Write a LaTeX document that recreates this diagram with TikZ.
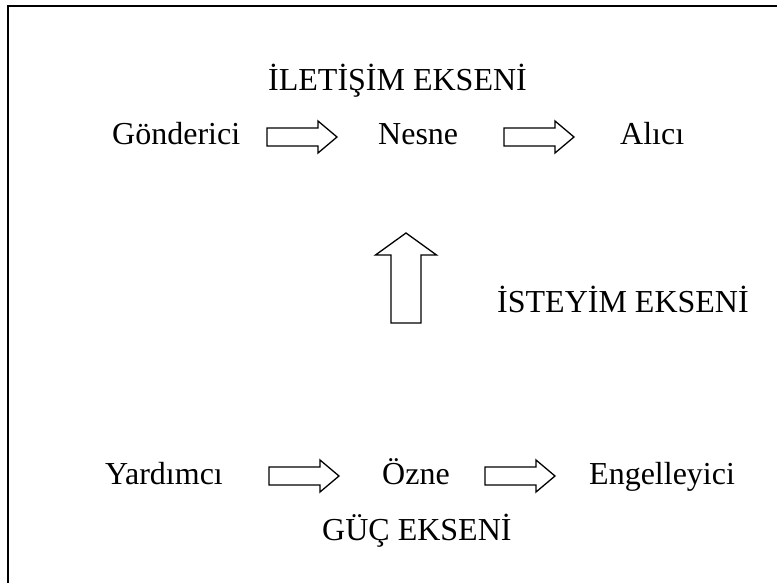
\documentclass[tikz,border=0pt]{standalone}
\usepackage{fontspec}
\setmainfont{Liberation Serif}
\begin{document}
\begin{tikzpicture}[x=1pt,y=-1pt,
  lbl/.style={inner sep=0pt,anchor=base west,font=\fontsize{32}{38}\selectfont},
  blk/.style={draw=black,line width=1.3pt,line join=miter},
  harrow/.pic={\draw[blk] (0,-9) -- (51,-9) -- (51,-16) -- (70,0) -- (51,16) -- (51,9) -- (0,9) -- cycle;},
  varrow/.pic={\draw[blk] (-15,90) -- (-15,22) -- (-30.5,22) -- (0,0) -- (30.5,22) -- (15,22) -- (15,90) -- cycle;}]
\useasboundingbox (0,0) rectangle (777,583);
\draw[line width=2pt] (8,583) -- (8,6) -- (777,6);
% axis titles
\node[lbl] (ilet) at (268,91) {İLETİŞİM EKSENİ};
\node[lbl] (iste) at (497,312) {İSTEYİM EKSENİ};
\node[lbl] (guc) at (322,540) {GÜÇ EKSENİ};
% row 1
\node[lbl] (gon) at (112,145) {Gönderici};
\node[lbl] (nes) at (378,145) {Nesne};
\node[lbl] (ali) at (620,145) {Alıcı};
\coordinate (a1) at (267,137);
\coordinate (a2) at (504,137);
\pic at (a1) {harrow};
\pic at (a2) {harrow};
% up arrow
\coordinate (up) at (406,233);
\pic at (up) {varrow};
% row 2
\node[lbl] (yar) at (105,484) {Yardımcı};
\node[lbl] (ozn) at (382,484) {Özne};
\node[lbl] (eng) at (589,484) {Engelleyici};
\coordinate (b1) at (269,476);
\coordinate (b2) at (485,476);
\pic at (b1) {harrow};
\pic at (b2) {harrow};
\end{tikzpicture}
\end{document}
